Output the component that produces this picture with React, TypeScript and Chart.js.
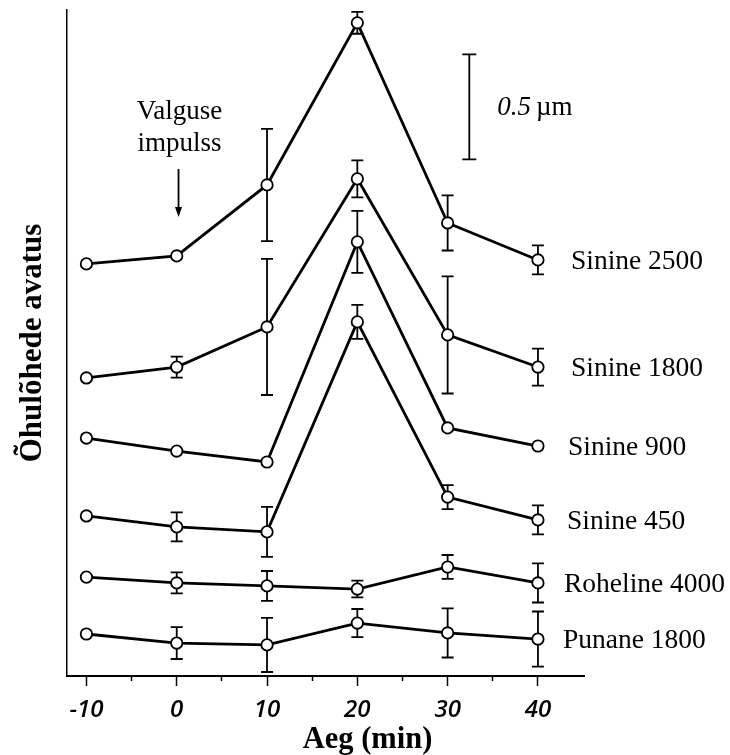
import { useEffect, useRef } from 'react';
import { Chart, registerables } from 'chart.js';

Chart.register(...registerables);

const FONT = "'Liberation Serif', 'Times New Roman', serif";
const TICK_FONT = "'Open Sans', 'DejaVu Sans', sans-serif";

// x values (minutes)
const times = [-10, 0, 10, 20, 30, 40];
const xTickValues = [-10, 0, 10, 20, 30, 40];
const xTickLabels = ['-10', '0', '10', '20', '30', '40'];
const xMinorTickValues = [-5, 5, 15, 25, 35];

const seriesNames = ['Sinine 2500', 'Sinine 1800', 'Sinine 900', 'Sinine 450', 'Roheline 4000', 'Punane 1800'];

// stomatal aperture (µm, arbitrary offset per curve)
const sinine2500 = [1.962, 2.0, 2.338, 3.11, 2.157, 1.981];
const sinine2500Err = [0, 0, 0.267, 0.052, 0.131, 0.069];
const sinine1800 = [1.419, 1.471, 1.662, 2.367, 1.624, 1.471];
const sinine1800Err = [0, 0.05, 0.324, 0.088, 0.279, 0.088];
const sinine900 = [1.133, 1.071, 1.019, 2.067, 1.181, 1.095];
const sinine900Err = [0, 0, 0, 0.148, 0, 0];
const sinine450 = [0.762, 0.71, 0.686, 1.686, 0.852, 0.743];
const sinine450Err = [0, 0.069, 0.119, 0.081, 0.057, 0.069];
const roheline4000 = [0.471, 0.443, 0.429, 0.414, 0.519, 0.443];
const roheline4000Err = [0, 0.05, 0.071, 0.04, 0.057, 0.093];
const punane1800 = [0.2, 0.157, 0.148, 0.252, 0.205, 0.176];
const punane1800Err = [0, 0.076, 0.129, 0.067, 0.117, 0.131];

const seriesValues = [sinine2500, sinine1800, sinine900, sinine450, roheline4000, punane1800];
const seriesErrors = [sinine2500Err, sinine1800Err, sinine900Err, sinine450Err, roheline4000Err, punane1800Err];

// scale bar (µm)
const scaleBarX = 32.4;
const scaleBarBottom = 2.46;
const scaleBarLength = 0.5;

// light pulse annotation
const pulseTime = 0.2;
const pulseArrowTop = 2.414;
const pulseArrowTip = 2.186;
const pulseText = ['Valguse', 'impulss'];
const pulseTextY = [2.652, 2.5];

// horizontal gap (px) between the last point and its series label
const labelGaps = [33, 33, 30, 29, 26, 25];

const overlayPlugin = {
  id: 'overlay',
  beforeDatasetsDraw(chart: any) {
    const ctx = chart.ctx;
    const xs = chart.scales.x;
    const ys = chart.scales.y;
    ctx.save();
    ctx.strokeStyle = '#000';
    ctx.lineWidth = 1.8;
    seriesValues.forEach((vals, i) => {
      const errs = seriesErrors[i];
      vals.forEach((v, j) => {
        const e = errs[j];
        if (!e) return;
        const x = xs.getPixelForValue(times[j]);
        const yT = ys.getPixelForValue(v + e);
        const yB = ys.getPixelForValue(v - e);
        ctx.beginPath();
        ctx.moveTo(x, yT);
        ctx.lineTo(x, yB);
        ctx.moveTo(x - 6, yT);
        ctx.lineTo(x + 6, yT);
        ctx.moveTo(x - 6, yB);
        ctx.lineTo(x + 6, yB);
        ctx.stroke();
      });
    });
    ctx.restore();
  },
  afterDraw(chart: any) {
    const ctx = chart.ctx;
    const xs = chart.scales.x;
    const ys = chart.scales.y;
    const area = chart.chartArea;
    ctx.save();
    ctx.fillStyle = '#000';
    ctx.strokeStyle = '#000';

    // series labels
    ctx.font = `27.5px ${FONT}`;
    ctx.textAlign = 'left';
    ctx.textBaseline = 'middle';
    seriesValues.forEach((vals, i) => {
      const last = vals.length - 1;
      const x = xs.getPixelForValue(times[last]) + labelGaps[i];
      const y = ys.getPixelForValue(vals[last]);
      ctx.fillText(seriesNames[i], x, y + 1.5);
    });

    // scale bar
    const sx = xs.getPixelForValue(scaleBarX);
    const sy1 = ys.getPixelForValue(scaleBarBottom + scaleBarLength);
    const sy2 = ys.getPixelForValue(scaleBarBottom);
    ctx.lineWidth = 1.8;
    ctx.beginPath();
    ctx.moveTo(sx, sy1);
    ctx.lineTo(sx, sy2);
    ctx.moveTo(sx - 7, sy1);
    ctx.lineTo(sx + 7, sy1);
    ctx.moveTo(sx - 7, sy2);
    ctx.lineTo(sx + 7, sy2);
    ctx.stroke();
    const sMid = (sy1 + sy2) / 2;
    ctx.textBaseline = 'alphabetic';
    ctx.font = `italic 27px ${FONT}`;
    const numText = scaleBarLength.toString();
    const lx = sx + 28;
    ctx.fillText(numText, lx, sMid + 8);
    const w = ctx.measureText(numText).width;
    ctx.font = `27px ${FONT}`;
    ctx.fillText('µm', lx + w + 5, sMid + 8);

    // light pulse annotation
    const px = xs.getPixelForValue(pulseTime);
    ctx.font = `27px ${FONT}`;
    ctx.textAlign = 'center';
    pulseText.forEach((t, i) => {
      ctx.fillText(t, px + 1, ys.getPixelForValue(pulseTextY[i]));
    });
    const aTop = ys.getPixelForValue(pulseArrowTop);
    const aTip = ys.getPixelForValue(pulseArrowTip);
    ctx.lineWidth = 1.8;
    ctx.beginPath();
    ctx.moveTo(px, aTop);
    ctx.lineTo(px, aTip - 8);
    ctx.stroke();
    ctx.beginPath();
    ctx.moveTo(px - 3.5, aTip - 10);
    ctx.lineTo(px + 3.5, aTip - 10);
    ctx.lineTo(px, aTip);
    ctx.closePath();
    ctx.fill();

    // x axis title
    ctx.font = `bold 30.5px ${FONT}`;
    ctx.textAlign = 'center';
    ctx.textBaseline = 'alphabetic';
    ctx.fillText('Aeg (min)', (area.left + area.right) / 2 + 42, 748);

    ctx.restore();
  },
};

export default function App() {
  const canvasRef = useRef<HTMLCanvasElement | null>(null);

  useEffect(() => {
    const canvas = canvasRef.current;
    if (!canvas) return;
    Chart.defaults.font.family = FONT;
    Chart.defaults.color = '#000';

    const datasets = seriesValues.map((vals, i) => ({
      label: seriesNames[i],
      data: vals.map((v, j) => ({ x: times[j], y: v })),
      borderColor: '#000',
      borderWidth: 2.8,
      pointRadius: 5.7,
      pointBorderWidth: 1.8,
      pointBackgroundColor: '#fff',
      pointBorderColor: '#000',
      tension: 0,
      fill: false,
      clip: false as any,
    }));

    const chart = new Chart(canvas, {
      type: 'line',
      data: { datasets },
      options: {
        animation: false,
        responsive: false,
        maintainAspectRatio: false,
        layout: { padding: { top: 10, right: 146, left: 0, bottom: 0 } },
        plugins: {
          legend: { display: false },
          tooltip: { enabled: false },
        },
        scales: {
          x: {
            type: 'linear',
            position: 'bottom',
            min: -12.15,
            max: 45.1,
            afterBuildTicks: (s: any) => {
              s.ticks = xTickValues.map((v) => ({ value: v }));
            },
            ticks: {
              autoSkip: false,
              maxRotation: 0,
              padding: 10,
              color: '#000',
              font: { family: TICK_FONT, size: 24, style: 'italic', weight: '600' },
              callback: (v: any) => xTickLabels[xTickValues.indexOf(Number(v))],
            },
            grid: {
              display: true,
              drawOnChartArea: false,
              drawTicks: true,
              tickLength: 10,
              tickWidth: 1.5,
              tickColor: '#000',
            },
            border: { display: true, color: '#000', width: 2 },
            afterFit: (s: any) => {
              s.height = 79;
            },
          } as any,
          xMinor: {
            type: 'linear',
            position: 'bottom',
            weight: -1,
            min: -12.15,
            max: 45.1,
            afterBuildTicks: (s: any) => {
              s.ticks = xMinorTickValues.map((v) => ({ value: v }));
            },
            ticks: { display: false },
            grid: {
              display: true,
              drawOnChartArea: false,
              drawTicks: true,
              tickLength: 5,
              tickWidth: 1.5,
              tickColor: '#000',
            },
            border: { display: false },
            afterFit: (s: any) => {
              s.height = 0;
            },
          } as any,
          y: {
            type: 'linear',
            min: 0,
            max: 3.171,
            ticks: { display: false },
            grid: { display: false },
            border: { display: true, color: '#000', width: 1.5 },
            title: {
              display: true,
              text: 'Õhulõhede avatus',
              color: '#000',
              font: { family: FONT, size: 31, weight: 'bold' },
              padding: { top: 14, bottom: 0 },
            },
            afterFit: (s: any) => {
              s.width = 67;
            },
          } as any,
        },
      },
      plugins: [overlayPlugin],
    });

    return () => chart.destroy();
  }, []);

  return (
    <div style={{ position: 'absolute', left: 0, top: 0, width: 730, height: 755, background: '#fff' }}>
      <canvas ref={canvasRef} width={730} height={755} style={{ display: 'block', width: 730, height: 755 }} />
    </div>
  );
}
